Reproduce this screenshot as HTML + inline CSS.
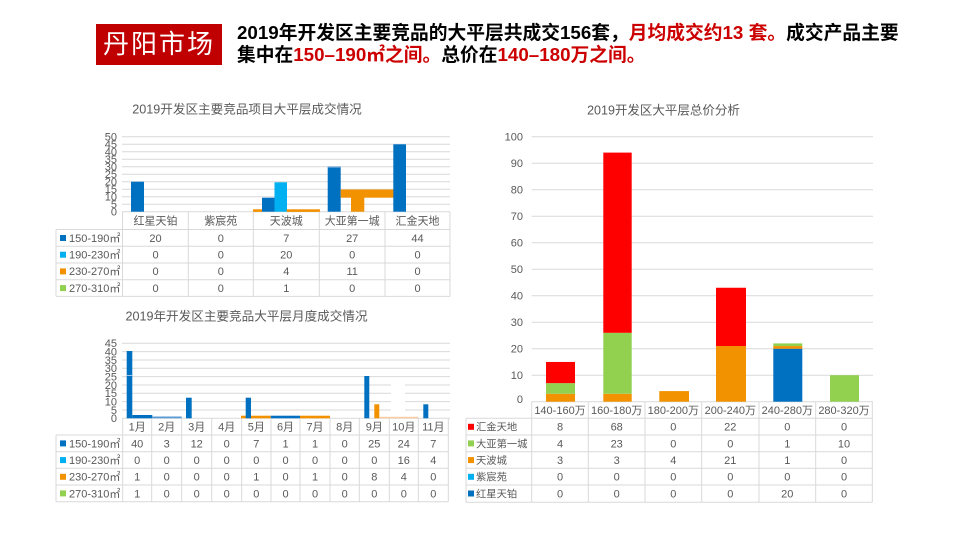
<!DOCTYPE html>
<html><head><meta charset="utf-8"><style>
html,body{margin:0;padding:0;background:#fff;}
body{width:960px;height:540px;position:relative;overflow:hidden;font-family:"Liberation Sans","Noto Sans CJK SC",sans-serif;}
.box{position:absolute;left:96px;top:24px;width:126px;height:41px;background:#c00000;color:#fff;font-size:26px;line-height:41px;text-align:center;letter-spacing:2px;font-family:"Liberation Sans","Noto Sans CJK SC",sans-serif;}
.hl{position:absolute;left:237px;font-size:18.75px;font-weight:bold;line-height:22px;white-space:nowrap;color:#000;font-family:"Liberation Sans","Noto Sans CJK SC",sans-serif;}
.r{color:#cc0000;}
svg{position:absolute;left:0;top:0;}
</style></head><body>
<div class="box">丹阳市场</div>
<div class="hl" style="top:22px;">2019年开发区主要竞品的大平层共成交156套，<span class="r">月均成交约13 套。</span>成交产品主要</div>
<div class="hl" style="top:44px;">集中在<span class="r">150–190㎡之间。</span>总价在<span class="r">140–180万之间。</span></div>

<svg width="960" height="540" viewBox="0 0 960 540" font-family="Liberation Sans, Noto Sans CJK SC, sans-serif">
<!-- ============ TOP LEFT CHART ============ -->
<text x="247" y="113.5" font-size="12.6" fill="#595959" text-anchor="middle">2019开发区主要竞品项目大平层成交情况</text>
<g stroke="#d9d9d9" stroke-width="1">
<line x1="122" y1="136.7" x2="450" y2="136.7"/>
<line x1="122" y1="144.2" x2="450" y2="144.2"/>
<line x1="122" y1="151.7" x2="450" y2="151.7"/>
<line x1="122" y1="159.2" x2="450" y2="159.2"/>
<line x1="122" y1="166.7" x2="450" y2="166.7"/>
<line x1="122" y1="174.2" x2="450" y2="174.2"/>
<line x1="122" y1="181.7" x2="450" y2="181.7"/>
<line x1="122" y1="189.2" x2="450" y2="189.2"/>
<line x1="122" y1="196.7" x2="450" y2="196.7"/>
<line x1="122" y1="204.2" x2="450" y2="204.2"/>
<line x1="122" y1="211.7" x2="450" y2="211.7"/>
</g>
<g font-size="11" fill="#595959" text-anchor="end">
<text x="117" y="140.5">50</text><text x="117" y="148">45</text><text x="117" y="155.5">40</text>
<text x="117" y="163">35</text><text x="117" y="170.5">30</text><text x="117" y="178">25</text>
<text x="117" y="185.5">20</text><text x="117" y="193">15</text><text x="117" y="200.5">10</text>
<text x="117" y="208">5</text><text x="117" y="215.5">0</text>
</g>
<!-- bars -->
<rect x="131" y="181.7" width="13" height="30" fill="#0070c0"/>
<rect x="253" y="209.3" width="9" height="2.6" fill="#f39200"/>
<rect x="262" y="197.7" width="12.5" height="14" fill="#0070c0"/>
<rect x="274.5" y="182.3" width="12.5" height="29.4" fill="#00b0f0"/>
<rect x="286.7" y="209.3" width="33.3" height="2.6" fill="#f39200"/>
<rect x="327.7" y="166.7" width="13" height="45" fill="#0070c0"/>
<rect x="327.7" y="166.7" width="13" height="1.2" fill="#5b9bd5"/>
<rect x="340.7" y="189.5" width="53.3" height="8.2" fill="#f39200"/>
<rect x="351" y="197.5" width="13.3" height="14.2" fill="#f39200"/>
<rect x="393.3" y="144.3" width="12.7" height="67.4" fill="#0070c0"/>
<!-- table -->
<g stroke="#d9d9d9" stroke-width="1">
<line x1="56" y1="229.5" x2="450" y2="229.5"/>
<line x1="56" y1="246.3" x2="450" y2="246.3"/>
<line x1="56" y1="263" x2="450" y2="263"/>
<line x1="56" y1="279.7" x2="450" y2="279.7"/>
<line x1="56" y1="296.4" x2="450" y2="296.4"/>
<line x1="56" y1="229.5" x2="56" y2="296.4"/>
<line x1="122.5" y1="211.7" x2="122.5" y2="296.4"/>
<line x1="188.3" y1="211.7" x2="188.3" y2="296.4"/>
<line x1="253.3" y1="211.7" x2="253.3" y2="296.4"/>
<line x1="319.3" y1="211.7" x2="319.3" y2="296.4"/>
<line x1="385" y1="211.7" x2="385" y2="296.4"/>
<line x1="450" y1="211.7" x2="450" y2="296.4"/>
</g>
<g font-size="11" fill="#595959" text-anchor="middle">
<text x="155.5" y="224.5">红星天铂</text><text x="220.8" y="224.5">紫宸苑</text><text x="286.3" y="224.5">天波城</text><text x="352.2" y="224.5">大亚第一城</text><text x="417.5" y="224.5">汇金天地</text>
<text x="155.5" y="241.8">20</text><text x="220.8" y="241.8">0</text><text x="286.3" y="241.8">7</text><text x="352.2" y="241.8">27</text><text x="417.5" y="241.8">44</text>
<text x="155.5" y="258.5">0</text><text x="220.8" y="258.5">0</text><text x="286.3" y="258.5">20</text><text x="352.2" y="258.5">0</text><text x="417.5" y="258.5">0</text>
<text x="155.5" y="275.2">0</text><text x="220.8" y="275.2">0</text><text x="286.3" y="275.2">4</text><text x="352.2" y="275.2">11</text><text x="417.5" y="275.2">0</text>
<text x="155.5" y="291.9">0</text><text x="220.8" y="291.9">0</text><text x="286.3" y="291.9">1</text><text x="352.2" y="291.9">0</text><text x="417.5" y="291.9">0</text>
</g>
<rect x="60" y="235" width="6" height="6" fill="#0070c0"/>
<rect x="60" y="251.7" width="6" height="6" fill="#00b0f0"/>
<rect x="60" y="268.4" width="6" height="6" fill="#f39200"/>
<rect x="60" y="285.1" width="6" height="6" fill="#92d050"/>
<g font-size="11" fill="#595959">
<text x="69" y="241.8">150-190㎡</text><text x="69" y="258.5">190-230㎡</text><text x="69" y="275.2">230-270㎡</text><text x="69" y="291.9">270-310㎡</text>
</g>

<!-- ============ BOTTOM LEFT CHART ============ -->
<text x="246.5" y="320.5" font-size="12.6" fill="#595959" text-anchor="middle">2019年开发区主要竞品大平层月度成交情况</text>
<g stroke="#d9d9d9" stroke-width="1">
<line x1="122" y1="343.3" x2="450" y2="343.3"/>
<line x1="122" y1="351.6" x2="450" y2="351.6"/>
<line x1="122" y1="360" x2="450" y2="360"/>
<line x1="122" y1="368.3" x2="450" y2="368.3"/>
<line x1="122" y1="376.6" x2="450" y2="376.6"/>
<line x1="122" y1="385" x2="450" y2="385"/>
<line x1="122" y1="393.3" x2="450" y2="393.3"/>
<line x1="122" y1="401.6" x2="450" y2="401.6"/>
<line x1="122" y1="410" x2="450" y2="410"/>
<line x1="122" y1="418.3" x2="450" y2="418.3"/>
</g>
<rect x="391" y="382" width="14" height="32" fill="#fff"/>
<g font-size="11" fill="#595959" text-anchor="end">
<text x="117" y="347.1">45</text><text x="117" y="355.4">40</text><text x="117" y="363.8">35</text>
<text x="117" y="372.1">30</text><text x="117" y="380.4">25</text><text x="117" y="388.8">20</text>
<text x="117" y="397.1">15</text><text x="117" y="405.4">10</text><text x="117" y="413.8">5</text>
<text x="117" y="422.1">0</text>
</g>
<!-- bars -->
<rect x="126.7" y="351" width="5.6" height="67.3" fill="#0070c0"/>
<rect x="126.7" y="375" width="5.6" height="1" fill="#9dc3e6"/>
<rect x="132.3" y="415" width="20" height="3.3" fill="#0070c0"/>
<rect x="152.3" y="416.5" width="29.4" height="1.8" fill="#5b9bd5"/>
<rect x="186" y="397.7" width="5.7" height="20.6" fill="#0070c0"/>
<rect x="241" y="415.7" width="29.7" height="2.6" fill="#f39200"/>
<rect x="245.7" y="397.7" width="5.3" height="20.6" fill="#0070c0"/>
<rect x="270.7" y="415.7" width="29.3" height="2.6" fill="#0070c0"/>
<rect x="300" y="415.7" width="30" height="2.6" fill="#f39200"/>
<rect x="364.3" y="376" width="5" height="42.3" fill="#0070c0"/>
<rect x="374.3" y="404.3" width="5" height="14" fill="#f39200"/>
<rect x="379.3" y="416.8" width="39" height="1.5" fill="#f8cba0"/>
<rect x="423.3" y="404.3" width="5" height="14" fill="#0070c0"/>
<!-- table -->
<g stroke="#d9d9d9" stroke-width="1">
<line x1="56" y1="435" x2="448.3" y2="435"/>
<line x1="56" y1="451.7" x2="448.3" y2="451.7"/>
<line x1="56" y1="468.3" x2="448.3" y2="468.3"/>
<line x1="56" y1="485" x2="448.3" y2="485"/>
<line x1="56" y1="501.7" x2="448.3" y2="501.7"/>
<line x1="56" y1="435" x2="56" y2="501.7"/>
<line x1="122.7" y1="418.3" x2="122.7" y2="501.7"/>
<line x1="151.7" y1="418.3" x2="151.7" y2="501.7"/>
<line x1="181.7" y1="418.3" x2="181.7" y2="501.7"/>
<line x1="211.7" y1="418.3" x2="211.7" y2="501.7"/>
<line x1="241.7" y1="418.3" x2="241.7" y2="501.7"/>
<line x1="271" y1="418.3" x2="271" y2="501.7"/>
<line x1="300" y1="418.3" x2="300" y2="501.7"/>
<line x1="330" y1="418.3" x2="330" y2="501.7"/>
<line x1="359.3" y1="418.3" x2="359.3" y2="501.7"/>
<line x1="389.3" y1="418.3" x2="389.3" y2="501.7"/>
<line x1="418.3" y1="418.3" x2="418.3" y2="501.7"/>
<line x1="448.3" y1="418.3" x2="448.3" y2="501.7"/>
</g>
<g font-size="11" fill="#595959" text-anchor="middle">
<text x="137.2" y="430.5">1月</text><text x="166.7" y="430.5">2月</text><text x="196.7" y="430.5">3月</text><text x="226.7" y="430.5">4月</text><text x="256.3" y="430.5">5月</text><text x="285.5" y="430.5">6月</text><text x="315" y="430.5">7月</text><text x="344.7" y="430.5">8月</text><text x="374.3" y="430.5">9月</text><text x="403.8" y="430.5">10月</text><text x="433.3" y="430.5">11月</text>
<text x="137.2" y="447.3">40</text><text x="166.7" y="447.3">3</text><text x="196.7" y="447.3">12</text><text x="226.7" y="447.3">0</text><text x="256.3" y="447.3">7</text><text x="285.5" y="447.3">1</text><text x="315" y="447.3">1</text><text x="344.7" y="447.3">0</text><text x="374.3" y="447.3">25</text><text x="403.8" y="447.3">24</text><text x="433.3" y="447.3">7</text>
<text x="137.2" y="464">0</text><text x="166.7" y="464">0</text><text x="196.7" y="464">0</text><text x="226.7" y="464">0</text><text x="256.3" y="464">0</text><text x="285.5" y="464">0</text><text x="315" y="464">0</text><text x="344.7" y="464">0</text><text x="374.3" y="464">0</text><text x="403.8" y="464">16</text><text x="433.3" y="464">4</text>
<text x="137.2" y="480.7">1</text><text x="166.7" y="480.7">0</text><text x="196.7" y="480.7">0</text><text x="226.7" y="480.7">0</text><text x="256.3" y="480.7">1</text><text x="285.5" y="480.7">0</text><text x="315" y="480.7">1</text><text x="344.7" y="480.7">0</text><text x="374.3" y="480.7">8</text><text x="403.8" y="480.7">4</text><text x="433.3" y="480.7">0</text>
<text x="137.2" y="497.3">1</text><text x="166.7" y="497.3">0</text><text x="196.7" y="497.3">0</text><text x="226.7" y="497.3">0</text><text x="256.3" y="497.3">0</text><text x="285.5" y="497.3">0</text><text x="315" y="497.3">0</text><text x="344.7" y="497.3">0</text><text x="374.3" y="497.3">0</text><text x="403.8" y="497.3">0</text><text x="433.3" y="497.3">0</text>
</g>
<rect x="60" y="440.4" width="6" height="6" fill="#0070c0"/>
<rect x="60" y="457.1" width="6" height="6" fill="#00b0f0"/>
<rect x="60" y="473.8" width="6" height="6" fill="#f39200"/>
<rect x="60" y="490.4" width="6" height="6" fill="#92d050"/>
<g font-size="11" fill="#595959">
<text x="69" y="447.3">150-190㎡</text><text x="69" y="464">190-230㎡</text><text x="69" y="480.7">230-270㎡</text><text x="69" y="497.3">270-310㎡</text>
</g>

<!-- ============ RIGHT CHART ============ -->
<text x="663.5" y="114.5" font-size="12.5" fill="#595959" text-anchor="middle">2019开发区大平层总价分析</text>
<g stroke="#d9d9d9" stroke-width="1">
<line x1="531.7" y1="136.7" x2="873" y2="136.7"/>
<line x1="531.7" y1="163.2" x2="873" y2="163.2"/>
<line x1="531.7" y1="189.7" x2="873" y2="189.7"/>
<line x1="531.7" y1="216.2" x2="873" y2="216.2"/>
<line x1="531.7" y1="242.7" x2="873" y2="242.7"/>
<line x1="531.7" y1="269.2" x2="873" y2="269.2"/>
<line x1="531.7" y1="295.7" x2="873" y2="295.7"/>
<line x1="531.7" y1="322.2" x2="873" y2="322.2"/>
<line x1="531.7" y1="348.7" x2="873" y2="348.7"/>
<line x1="531.7" y1="375.2" x2="873" y2="375.2"/>
<line x1="531.7" y1="401.7" x2="873" y2="401.7"/>
</g>
<g font-size="11" fill="#595959" text-anchor="end">
<text x="523" y="140.5">100</text><text x="523" y="167">90</text><text x="523" y="193.5">80</text>
<text x="523" y="220">70</text><text x="523" y="246.5">60</text><text x="523" y="273">50</text>
<text x="523" y="299.5">40</text><text x="523" y="326">30</text><text x="523" y="352.5">20</text>
<text x="523" y="379">10</text><text x="523" y="403">0</text>
</g>
<!-- bars -->
<rect x="546" y="393.75" width="29" height="7.95" fill="#f39200"/>
<rect x="546" y="383.15" width="29" height="10.6" fill="#92d050"/>
<rect x="546" y="361.95" width="29" height="21.2" fill="#ff0000"/>
<rect x="603.3" y="393.75" width="28.4" height="7.95" fill="#f39200"/>
<rect x="603.3" y="332.8" width="28.4" height="60.95" fill="#92d050"/>
<rect x="603.3" y="152.6" width="28.4" height="180.2" fill="#ff0000"/>
<rect x="659.3" y="391.1" width="29.7" height="10.6" fill="#f39200"/>
<rect x="716" y="346.05" width="30" height="55.65" fill="#f39200"/>
<rect x="716" y="287.75" width="30" height="58.3" fill="#ff0000"/>
<rect x="773.3" y="348.7" width="29" height="53" fill="#0070c0"/>
<rect x="773.3" y="346.05" width="29" height="2.65" fill="#f39200"/>
<rect x="773.3" y="343.4" width="29" height="2.65" fill="#92d050"/>
<rect x="830" y="375.2" width="29" height="26.5" fill="#92d050"/>
<!-- table -->
<g stroke="#d9d9d9" stroke-width="1">
<line x1="466" y1="418.3" x2="872.3" y2="418.3"/>
<line x1="466" y1="435" x2="872.3" y2="435"/>
<line x1="466" y1="451.7" x2="872.3" y2="451.7"/>
<line x1="466" y1="468.3" x2="872.3" y2="468.3"/>
<line x1="466" y1="485" x2="872.3" y2="485"/>
<line x1="466" y1="502.3" x2="872.3" y2="502.3"/>
<line x1="466" y1="418.3" x2="466" y2="502.3"/>
<line x1="531.7" y1="401.7" x2="531.7" y2="502.3"/>
<line x1="588.3" y1="401.7" x2="588.3" y2="502.3"/>
<line x1="645" y1="401.7" x2="645" y2="502.3"/>
<line x1="701.7" y1="401.7" x2="701.7" y2="502.3"/>
<line x1="759" y1="401.7" x2="759" y2="502.3"/>
<line x1="815.7" y1="401.7" x2="815.7" y2="502.3"/>
<line x1="872.3" y1="401.7" x2="872.3" y2="502.3"/>
</g>
<g font-size="11" fill="#595959" text-anchor="middle">
<text x="560" y="414">140-160万</text><text x="616.7" y="414">160-180万</text><text x="673.3" y="414">180-200万</text><text x="730.3" y="414">200-240万</text><text x="787.3" y="414">240-280万</text><text x="844" y="414">280-320万</text>
<text x="560" y="430.7">8</text><text x="616.7" y="430.7">68</text><text x="673.3" y="430.7">0</text><text x="730.3" y="430.7">22</text><text x="787.3" y="430.7">0</text><text x="844" y="430.7">0</text>
<text x="560" y="447.3">4</text><text x="616.7" y="447.3">23</text><text x="673.3" y="447.3">0</text><text x="730.3" y="447.3">0</text><text x="787.3" y="447.3">1</text><text x="844" y="447.3">10</text>
<text x="560" y="464">3</text><text x="616.7" y="464">3</text><text x="673.3" y="464">4</text><text x="730.3" y="464">21</text><text x="787.3" y="464">1</text><text x="844" y="464">0</text>
<text x="560" y="480.7">0</text><text x="616.7" y="480.7">0</text><text x="673.3" y="480.7">0</text><text x="730.3" y="480.7">0</text><text x="787.3" y="480.7">0</text><text x="844" y="480.7">0</text>
<text x="560" y="497.5">0</text><text x="616.7" y="497.5">0</text><text x="673.3" y="497.5">0</text><text x="730.3" y="497.5">0</text><text x="787.3" y="497.5">20</text><text x="844" y="497.5">0</text>
</g>
<rect x="468" y="423.8" width="6" height="6" fill="#ff0000"/>
<rect x="468" y="440.4" width="6" height="6" fill="#92d050"/>
<rect x="468" y="457.1" width="6" height="6" fill="#f39200"/>
<rect x="468" y="473.8" width="6" height="6" fill="#00b0f0"/>
<rect x="468" y="490.5" width="6" height="6" fill="#0070c0"/>
<g font-size="10.3" fill="#595959">
<text x="476" y="430.7">汇金天地</text><text x="476" y="447.3">大亚第一城</text><text x="476" y="464">天波城</text><text x="476" y="480.7">紫宸苑</text><text x="476" y="497.5">红星天铂</text>
</g>
</svg>
</body></html>
